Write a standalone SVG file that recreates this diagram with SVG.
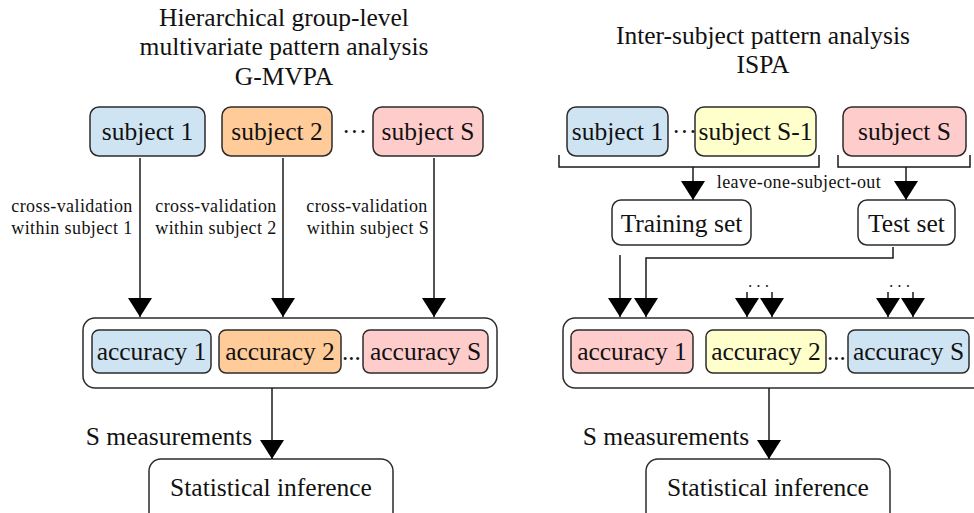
<svg xmlns="http://www.w3.org/2000/svg" width="974" height="513" viewBox="0 0 974 513">
<defs>
<marker id="ah" markerUnits="userSpaceOnUse" markerWidth="19" markerHeight="24" viewBox="0 0 19 24" refX="19" refY="12" orient="auto">
<path d="M0,0 L19,12 L0,24 Z" fill="#000"/>
</marker>
<style>
text{font-family:"Liberation Serif","Times New Roman",serif;fill:#111}
.big{font-size:25.5px;text-anchor:middle}
.sm{font-size:18px;text-anchor:middle;letter-spacing:0.4px}
.dots{font-size:25px}
.pd{font-size:16px;text-anchor:middle;letter-spacing:3px}
.node rect{stroke:#2b2b2b;stroke-width:1.5}
.blue{fill:#cfe4f3}
.peach{fill:#ffcc99}
.pink{fill:#ffcccc}
.yellow{fill:#ffffcc}
.white{fill:#fff}
.conn path{fill:none;stroke:#1a1a1a;stroke-width:1.5}
.arr{marker-end:url(#ah)}
</style>
</defs>
<rect width="974" height="513" fill="#fff"/>

<g id="title-left">
<text class="big" x="284" y="26">Hierarchical group-level</text>
<text class="big" x="284" y="55">multivariate pattern analysis</text>
<text class="big" x="284" y="85">G-MVPA</text>
</g>
<g id="title-right">
<text class="big" x="763" y="44">Inter-subject pattern analysis</text>
<text class="big" x="763" y="73">ISPA</text>
</g>

<!-- Left side nodes -->
<g id="L-subject1" class="node"><rect class="blue" x="90" y="107" width="115" height="49" rx="9"/><text class="big" x="147.5" y="140">subject 1</text></g>
<g id="L-subject2" class="node"><rect class="peach" x="222" y="107" width="110" height="49" rx="9"/><text class="big" x="277" y="140">subject 2</text></g>
<g id="L-dots1"><text class="dots" x="342" y="140">···</text></g>
<g id="L-subjectS" class="node"><rect class="pink" x="373" y="107" width="110" height="49" rx="9"/><text class="big" x="428" y="140">subject S</text></g>

<g id="L-labels">
<text class="sm" x="72" y="212">cross-validation</text>
<text class="sm" x="72" y="234">within subject 1</text>
<text class="sm" x="216" y="212">cross-validation</text>
<text class="sm" x="216" y="234">within subject 2</text>
<text class="sm" x="367" y="212">cross-validation</text>
<text class="sm" x="368" y="234">within subject S</text>
</g>

<g id="L-container" class="node"><rect class="white" x="83" y="318" width="414" height="70" rx="12"/></g>
<g id="L-acc1" class="node"><rect class="blue" x="92" y="330" width="119" height="43" rx="7"/><text class="big" x="151.5" y="360">accuracy 1</text></g>
<g id="L-acc2" class="node"><rect class="peach" x="219" y="330" width="122" height="43" rx="7"/><text class="big" x="280" y="360">accuracy 2</text></g>
<g id="L-dots2"><text class="dots" x="342" y="360">...</text></g>
<g id="L-accS" class="node"><rect class="pink" x="363" y="330" width="125" height="43" rx="7"/><text class="big" x="425.5" y="360">accuracy S</text></g>

<g id="L-measure"><text class="big" x="169" y="445">S measurements</text></g>
<g id="L-stat" class="node"><rect class="white" x="149" y="459" width="244" height="70" rx="12"/><text class="big" x="271" y="496">Statistical inference</text></g>

<!-- Right side nodes -->
<g id="R-subject1" class="node"><rect class="blue" x="567" y="107" width="101" height="49" rx="9"/><text class="big" x="617.5" y="140">subject 1</text></g>
<g id="R-dots1"><text class="dots" x="672" y="140">···</text></g>
<g id="R-subjectS1" class="node"><rect class="yellow" x="695" y="107" width="121" height="49" rx="9"/><text class="big" x="755.5" y="140">subject S-1</text></g>
<g id="R-subjectS" class="node"><rect class="pink" x="843" y="107" width="123" height="49" rx="9"/><text class="big" x="904.5" y="140">subject S</text></g>

<g id="R-loso"><text class="sm" x="799" y="188">leave-one-subject-out</text></g>

<g id="R-train" class="node"><rect class="white" x="612" y="200" width="139" height="45" rx="9"/><text class="big" x="681.5" y="232">Training set</text></g>
<g id="R-test" class="node"><rect class="white" x="858" y="200" width="97" height="45" rx="9"/><text class="big" x="906.5" y="232">Test set</text></g>

<g id="R-pairdots">
<text class="pd" x="760" y="292">···</text>
<text class="pd" x="901" y="292">···</text>
</g>

<g id="R-container" class="node"><rect class="white" x="563" y="318" width="440" height="70" rx="12"/></g>
<g id="R-acc1" class="node"><rect class="pink" x="571" y="330" width="122" height="43" rx="7"/><text class="big" x="632" y="360">accuracy 1</text></g>
<g id="R-acc2" class="node"><rect class="yellow" x="706" y="330" width="120" height="43" rx="7"/><text class="big" x="766" y="360">accuracy 2</text></g>
<g id="R-dots2"><text class="dots" x="827" y="360">...</text></g>
<g id="R-accS" class="node"><rect class="blue" x="848" y="330" width="121" height="43" rx="7"/><text class="big" x="908.5" y="360">accuracy S</text></g>

<g id="R-measure"><text class="big" x="666" y="445">S measurements</text></g>
<g id="R-stat" class="node"><rect class="white" x="646" y="459" width="244" height="70" rx="12"/><text class="big" x="768" y="496">Statistical inference</text></g>

<g id="connectors" class="conn">
<path class="arr" d="M140,158 V317"/>
<path class="arr" d="M283,158 V317"/>
<path class="arr" d="M434,158 V317"/>
<path class="arr" d="M272,388 V459"/>
<path d="M559,155 V167 H819 V155"/>
<path d="M838,155 V167 H970 V155"/>
<path class="arr" d="M693,167 V200"/>
<path class="arr" d="M906,167 V200"/>
<path class="arr" d="M620,255 V317"/>
<path class="arr" d="M893,247 V258 H646 V317"/>
<path class="arr" d="M747,292 V317"/>
<path class="arr" d="M772,292 V317"/>
<path class="arr" d="M888,292 V317"/>
<path class="arr" d="M913,292 V317"/>
<path class="arr" d="M769,388 V459"/>
</g>
</svg>
